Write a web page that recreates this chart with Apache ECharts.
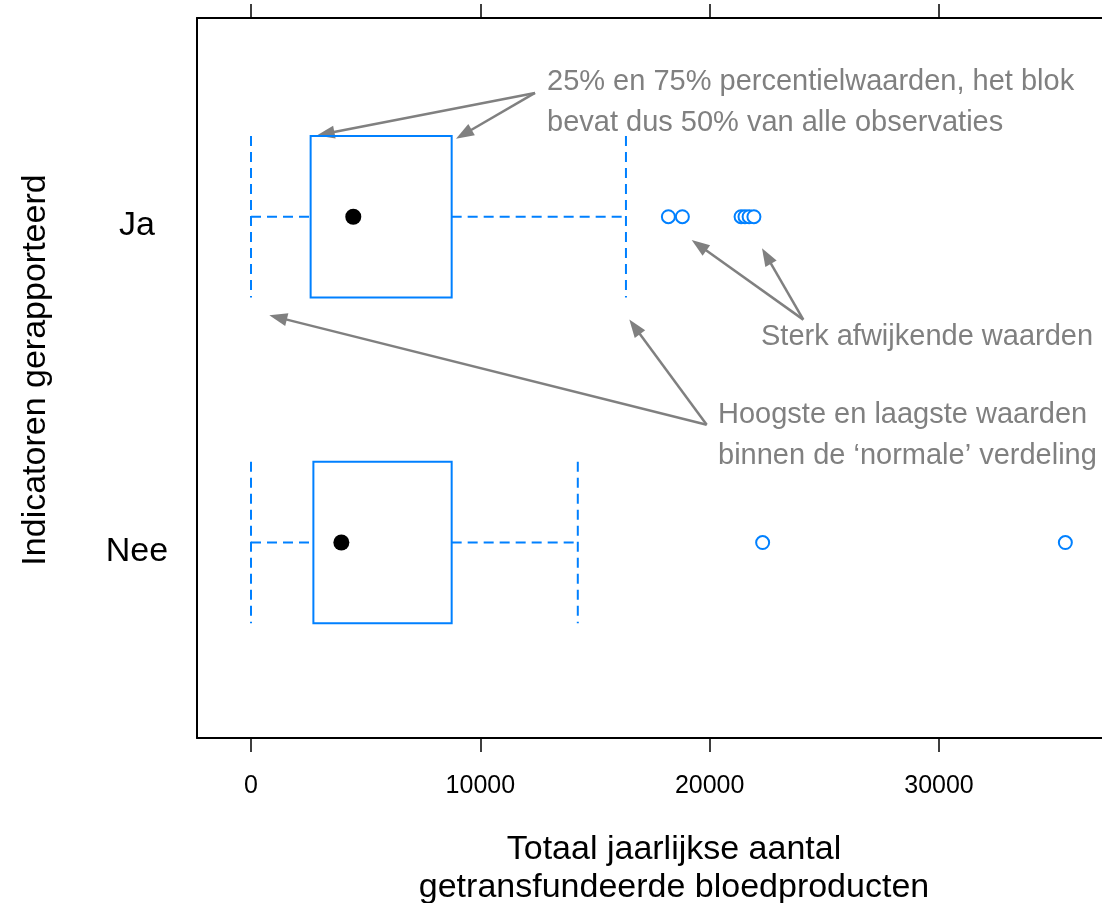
<!DOCTYPE html>
<html>
<head>
<meta charset="utf-8">
<script src="https://cdn.jsdelivr.net/npm/echarts@6/dist/echarts.min.js"></script>
<style>
html,body{margin:0;padding:0;background:#fff;}
#chart{width:1102px;height:903px;}
</style>
</head>
<body>
<div id="chart"></div>
<script>
// ---- data ----
const categories = ['Nee', 'Ja'];          // y positions 1, 2
const whiskerLow  = [0, 0];
const quartile1   = [2720, 2600];
const medians     = [3940, 4460];
const quartile3   = [8750, 8750];
const whiskerHigh = [14250, 16350];
const outliersNee = [22310, 35510];
const outliersJa  = [18200, 18810, 21370, 21540, 21720, 21930];
const xTicks = [0, 10000, 20000, 30000];

// annotation arrows (data space): [from, to]
const arrowsData = [
  [[12384, 2.380], [2865, 2.2495]],
  [[12384, 2.380], [8939, 2.2394]],
  [[24083, 1.6842], [19217, 1.9287]],
  [[24083, 1.6842], [22282, 1.9033]],
  [[19871, 1.3616], [798, 1.6977]],
  [[19871, 1.3616], [16496, 1.6842]]
];

const BLUE = '#0080ff';
const GRAY = '#808080';
const FONT = '"Liberation Sans", Arial, sans-serif';

const boxData = categories.map((c, i) => [i + 1, whiskerLow[i], quartile1[i], medians[i], quartile3[i], whiskerHigh[i]]);
const outlierData = [];
outliersNee.forEach(v => outlierData.push([v, 1]));
outliersJa.forEach(v => outlierData.push([v, 2]));

const HALF = 0.248;
function renderBox(params, api) {
  const y = api.value(0);
  const lo = api.value(1), q1 = api.value(2), med = api.value(3), q3 = api.value(4), hi = api.value(5);
  const top = api.coord([q1, y + HALF])[1];
  const bot = api.coord([q1, y - HALF])[1];
  const cy = api.coord([q1, y])[1];
  const xLo = api.coord([lo, y])[0];
  const xQ1 = api.coord([q1, y])[0];
  const xMed = api.coord([med, y])[0];
  const xQ3 = api.coord([q3, y])[0];
  const xHi = api.coord([hi, y])[0];
  const dash = { stroke: BLUE, lineWidth: 2, lineDash: [10, 6], fill: null };
  return {
    type: 'group',
    children: [
      { type: 'line', shape: { x1: xLo, y1: cy, x2: xQ1, y2: cy }, style: dash },
      { type: 'line', shape: { x1: xQ3, y1: cy, x2: xHi, y2: cy }, style: dash },
      { type: 'line', shape: { x1: xLo, y1: top, x2: xLo, y2: bot }, style: dash },
      { type: 'line', shape: { x1: xHi, y1: top, x2: xHi, y2: bot }, style: dash },
      { type: 'rect', shape: { x: xQ1, y: top, width: xQ3 - xQ1, height: bot - top },
        style: { stroke: BLUE, lineWidth: 2, fill: null } },
      { type: 'circle', shape: { cx: xMed, cy: cy, r: 8 }, style: { fill: '#000' } }
    ]
  };
}

const chart = echarts.init(document.getElementById('chart'), null, { renderer: 'canvas' });
const xMin = -2355, xMax = 37108;
const tickStyle = { show: true, length: 14, lineStyle: { color: '#000', width: 1.5 }, customValues: xTicks };
const frameLine = { show: true, onZero: false, lineStyle: { color: '#000', width: 2 } };

const texts = [
  { type: 'text', x: 547, y: 102, style: { text: '25% en 75% percentielwaarden, het blok\nbevat dus 50% van alle observaties',
      font: '29px ' + FONT, fill: GRAY, textAlign: 'left', textVerticalAlign: 'middle', lineHeight: 41 } },
  { type: 'text', x: 761, y: 337, style: { text: 'Sterk afwijkende waarden',
      font: '29px ' + FONT, fill: GRAY, textAlign: 'left', textVerticalAlign: 'middle' } },
  { type: 'text', x: 718, y: 435.5, style: { text: 'Hoogste en laagste waarden\nbinnen de \u2018normale\u2019 verdeling',
      font: '29px ' + FONT, fill: GRAY, textAlign: 'left', textVerticalAlign: 'middle', lineHeight: 41 } },
  { type: 'text', x: 674, y: 869, style: { text: 'Totaal jaarlijkse aantal\ngetransfundeerde bloedproducten',
      font: '34px ' + FONT, fill: '#000', textAlign: 'center', textVerticalAlign: 'middle', lineHeight: 38 } },
  { type: 'text', x: 36, y: 370, rotation: Math.PI / 2, style: { text: 'Indicatoren gerapporteerd',
      font: '34px ' + FONT, fill: '#000', textAlign: 'center', textVerticalAlign: 'middle' } }
];

chart.setOption({
  animation: false,
  backgroundColor: '#fff',
  grid: { left: 197, top: 18, right: 0, height: 720, show: false, containLabel: false },
  xAxis: [
    { type: 'value', position: 'bottom', min: xMin, max: xMax,
      axisLine: frameLine, splitLine: { show: false },
      axisTick: tickStyle,
      axisLabel: { customValues: xTicks, formatter: v => String(v), margin: 36, fontSize: 25, color: '#000', fontFamily: FONT } },
    { type: 'value', position: 'top', min: xMin, max: xMax,
      axisLine: frameLine, splitLine: { show: false },
      axisTick: tickStyle, axisLabel: { show: false } }
  ],
  yAxis: {
    type: 'value', min: 0.40, max: 2.61, position: 'left',
    axisLine: frameLine, splitLine: { show: false }, axisTick: { show: false },
    axisLabel: {
      customValues: [1, 2],
      formatter: v => categories[Math.round(v) - 1],
      align: 'center', verticalAlign: 'top', lineHeight: 18,
      margin: 60, fontSize: 34, color: '#000', fontFamily: FONT
    }
  },
  series: [
    { type: 'custom', renderItem: renderBox, data: boxData, encode: { x: [1, 2, 3, 4, 5], y: 0 }, silent: true },
    { type: 'scatter', data: outlierData, symbol: 'circle', symbolSize: 13,
      itemStyle: { color: '#fff', borderColor: BLUE, borderWidth: 2, opacity: 1 }, silent: true }
  ],
  graphic: texts
});

// annotation arrows, positioned through the chart's own scales
const HEAD_LEN = 18, HEAD_HALF = 6.5;
const arrowGraphics = [];
arrowsData.forEach(a => {
  const p0 = chart.convertToPixel({ seriesIndex: 0 }, a[0]);
  const p1 = chart.convertToPixel({ seriesIndex: 0 }, a[1]);
  const dx = p1[0] - p0[0], dy = p1[1] - p0[1];
  const L = Math.sqrt(dx * dx + dy * dy);
  const ux = dx / L, uy = dy / L;
  const bx = p1[0] - ux * HEAD_LEN, by = p1[1] - uy * HEAD_LEN;
  const nx = -uy, ny = ux;
  arrowGraphics.push({ type: 'line', silent: true,
    shape: { x1: p0[0], y1: p0[1], x2: p1[0] - ux * (HEAD_LEN - 3), y2: p1[1] - uy * (HEAD_LEN - 3) },
    style: { stroke: GRAY, lineWidth: 2.5 } });
  arrowGraphics.push({ type: 'polygon', silent: true,
    shape: { points: [[p1[0], p1[1]], [bx + nx * HEAD_HALF, by + ny * HEAD_HALF], [bx - nx * HEAD_HALF, by - ny * HEAD_HALF]] },
    style: { fill: GRAY } });
});
chart.setOption({ graphic: texts.concat(arrowGraphics) });
</script>
</body>
</html>
